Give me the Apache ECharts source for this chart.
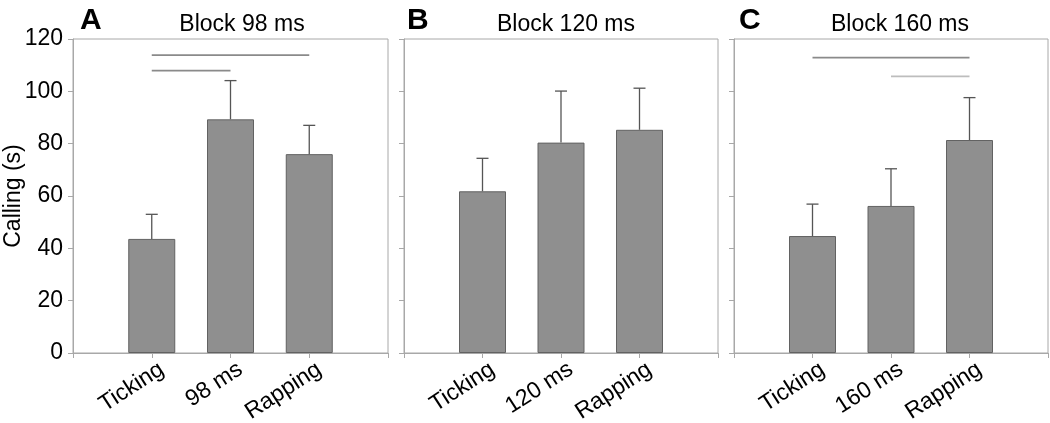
<!DOCTYPE html>
<html>
<head>
<meta charset="utf-8">
<script src="https://cdn.jsdelivr.net/npm/echarts@6/dist/echarts.min.js"></script>
<style>
html,body{margin:0;padding:0;background:#fff;}
#chart{width:1050px;height:423px;}
</style>
</head>
<body>
<div id="chart"></div>
<script>
// ---- data ----
const categoriesA = ['Ticking', '98 ms', 'Rapping'];
const categoriesB = ['Ticking', '120 ms', 'Rapping'];
const categoriesC = ['Ticking', '160 ms', 'Rapping'];
const meansA = [43.6, 89.3, 76.0];
const errTopA = [53.0, 104.1, 87.0];
const meansB = [61.8, 80.4, 85.3];
const errTopB = [74.4, 100.1, 101.2];
const meansC = [44.7, 56.2, 81.4];
const errTopC = [56.9, 70.4, 97.6];
// significance lines: [fromCategory, toCategory, height]
const sigA = [[0, 2, 113.8], [0, 1, 107.9]];
const sigC = [[0, 2, 112.9], [1, 2, 105.7]];
const sigColorsA = ['#8a8a8a', '#8a8a8a'];
const sigColorsC = ['#8a8a8a', '#bdbdbd'];
const panelTitles = ['Block 98 ms', 'Block 120 ms', 'Block 160 ms'];
const panelLetters = ['A', 'B', 'C'];
const yTicks = {min: 0, max: 120, interval: 20};

const FONT = 'Liberation Sans, Arial, Helvetica, sans-serif';
const AXIS_COLOR = '#a8a8a8';

function padCats(c) { return [''].concat(c).concat(['']); }
function barData(m) { return ['-'].concat(m).concat(['-']); }
function errData(m, t) { return m.map((v, i) => [i + 1, v, t[i]]); }
function sigData(s) { return s.map(d => [d[0] + 1, d[1] + 1, d[2]]); }

const grids = [
  {left: 73, width: 315, top: 39, height: 314},
  {left: 404, width: 314, top: 39, height: 314},
  {left: 734, width: 314, top: 39, height: 314}
].map(g => Object.assign(g, {show: true, borderColor: AXIS_COLOR, borderWidth: 1,
  backgroundColor: 'transparent', containLabel: false, outerBoundsMode: 'none'}));

const cats = [categoriesA, categoriesB, categoriesC];
const xAxes = cats.map((c, i) => ({
  type: 'category', gridIndex: i, data: padCats(c), boundaryGap: false,
  axisLine: {lineStyle: {color: AXIS_COLOR, width: 1}},
  axisTick: {show: true, length: 5, lineStyle: {color: AXIS_COLOR}},
  axisLabel: {interval: 0, rotate: 33, margin: 21, padding: [0, -12, 0, 0],
    color: '#000', fontSize: 23, fontFamily: FONT},
  splitLine: {show: false}
}));
const yAxes = [0, 1, 2].map(i => ({
  type: 'value', gridIndex: i, min: yTicks.min, max: yTicks.max, interval: yTicks.interval,
  name: i === 0 ? 'Calling (s)' : '', nameLocation: 'middle', nameGap: 48, nameMoveOverlap: false,
  nameTextStyle: {color: '#000', fontSize: 23, fontFamily: FONT},
  axisLine: {show: true, lineStyle: {color: AXIS_COLOR, width: 1}},
  axisTick: {show: true, length: 5, lineStyle: {color: AXIS_COLOR}},
  axisLabel: {show: i === 0, margin: 10, color: '#000', fontSize: 23, fontFamily: FONT},
  splitLine: {show: false}
}));

function renderErr(params, api) {
  const x = api.value(0);
  const base = api.coord([x, api.value(1)]);
  const top = api.coord([x, api.value(2)]);
  const st = {stroke: '#555', lineWidth: 1.3};
  return {type: 'group', children: [
    {type: 'line', shape: {x1: base[0], y1: base[1], x2: top[0], y2: top[1]}, style: st},
    {type: 'line', shape: {x1: top[0] - 6, y1: top[1], x2: top[0] + 6, y2: top[1]}, style: st}
  ]};
}
function makeSigRender(colors) {
  return function (params, api) {
    const a = api.coord([api.value(0), api.value(2)]);
    const b = api.coord([api.value(1), api.value(2)]);
    return {type: 'line', shape: {x1: a[0], y1: a[1], x2: b[0], y2: b[1]},
      style: {stroke: colors[params.dataIndex], lineWidth: 1.8}};
  };
}

const means = [meansA, meansB, meansC];
const tops = [errTopA, errTopB, errTopC];
const series = [];
for (let i = 0; i < 3; i++) {
  series.push({
    type: 'bar', xAxisIndex: i, yAxisIndex: i, data: barData(means[i]), barWidth: 47,
    itemStyle: {color: '#8f8f8f', borderColor: '#626262', borderWidth: 1}, silent: true, z: 2
  });
  series.push({
    type: 'custom', xAxisIndex: i, yAxisIndex: i, data: errData(means[i], tops[i]),
    encode: {x: 0, y: [1, 2]}, renderItem: renderErr, silent: true, z: 3
  });
}
series.push({type: 'custom', xAxisIndex: 0, yAxisIndex: 0, data: sigData(sigA),
  encode: {x: [0, 1], y: 2}, renderItem: makeSigRender(sigColorsA), silent: true, z: 3});
series.push({type: 'custom', xAxisIndex: 2, yAxisIndex: 2, data: sigData(sigC),
  encode: {x: [0, 1], y: 2}, renderItem: makeSigRender(sigColorsC), silent: true, z: 3});

const titles = [];
const centers = [237, 561, 895];
const letterX = [75, 402, 734];
for (let i = 0; i < 3; i++) {
  titles.push({text: panelTitles[i], left: centers[i], top: 8, textAlign: 'center',
    textStyle: {color: '#000', fontSize: 23, fontWeight: 'normal', fontFamily: FONT}});
  titles.push({text: panelLetters[i], left: letterX[i], top: 1,
    textStyle: {color: '#000', fontSize: 30, fontWeight: 'bold', fontFamily: FONT}});
}

const chart = echarts.init(document.getElementById('chart'), null, {renderer: 'canvas'});
chart.setOption({
  animation: false,
  backgroundColor: '#fff',
  title: titles,
  grid: grids,
  xAxis: xAxes,
  yAxis: yAxes,
  series: series
});
</script>
</body>
</html>
